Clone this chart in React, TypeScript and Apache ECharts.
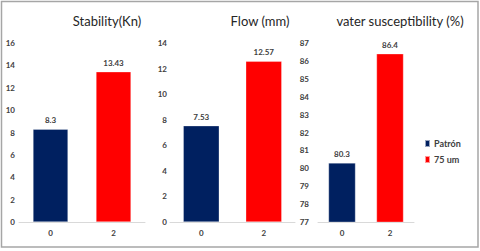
import React, { useEffect, useRef } from "react";
import * as echarts from "echarts";

const categories = ["0", "2"];
const titles = ["Stability(Kn)", "Flow (mm)", "vater susceptibility (%)"];
const patronValues = [8.3, 7.53, 80.3];
const umValues = [13.43, 12.57, 86.4];
const yMins = [0, 0, 77];
const yMaxs = [16, 14, 87];
const yIntervals = [2, 2, 1];
const seriesNames = ["Patrón", "75 um"];

const NAVY = "#002060";
const RED = "#FF0000";
const FONT = "Lato, 'Liberation Sans', sans-serif";

const grids = [
  { left: 19, width: 126 },
  { left: 170, width: 125 },
  { left: 318, width: 96 },
];
const barWidths = [35, 36, 27];
const labelMargins = [4, 3, 9];
const titleCenters = [102, 255, 395];

export default function App() {
  const ref = useRef<HTMLDivElement>(null);
  useEffect(() => {
    if (!ref.current) return;
    const chart = echarts.init(ref.current, null, { renderer: "svg" });
    const labelStyle = {
      show: true,
      position: "top" as const,
      distance: 5,
      fontSize: 8,
      fontWeight: "bold" as const,
      color: "#404040",
      fontFamily: FONT,
    };
    const series: any[] = [];
    for (let i = 0; i < 3; i++) {
      series.push({
        name: seriesNames[0],
        type: "bar",
        xAxisIndex: i,
        yAxisIndex: i,
        barWidth: barWidths[i],
        barGap: "-100%",
        data: [patronValues[i], "-"],
        itemStyle: { color: NAVY, borderColor: "rgba(255,255,255,0.6)", borderWidth: 0.5 },
        label: labelStyle,
      });
      series.push({
        name: seriesNames[1],
        type: "bar",
        xAxisIndex: i,
        yAxisIndex: i,
        barWidth: barWidths[i],
        barGap: "-100%",
        data: ["-", umValues[i]],
        itemStyle: { color: RED, borderColor: "rgba(255,255,255,0.6)", borderWidth: 0.5 },
        label: labelStyle,
      });
    }
    chart.setOption({
      animation: false,
      backgroundColor: "#ffffff",
      title: titles.map((t, i) => ({
        text: t,
        left: titleCenters[i],
        top: 9,
        textAlign: "center",
        textStyle: { fontSize: 13, fontWeight: "normal", color: "#262626", fontFamily: FONT },
      })),
      legend: {
        orient: "vertical",
        left: 419,
        top: 134,
        itemWidth: 5,
        itemHeight: 7,
        itemGap: 7,
        icon: "rect",
        data: seriesNames,
        textStyle: { fontSize: 9, fontWeight: "bold", color: "#404040", fontFamily: FONT, padding: [0, 0, 0, -1] },
      },
      grid: grids.map((g) => ({ left: g.left, width: g.width, top: 43, bottom: 29 })),
      xAxis: grids.map((_, i) => ({
        type: "category",
        gridIndex: i,
        data: categories,
        axisLine: { lineStyle: { color: "#d9d9d9", width: 1 } },
        axisTick: { show: false },
        axisLabel: { margin: 7, fontSize: 8, fontWeight: "bold", color: "#404040", fontFamily: FONT },
      })),
      yAxis: grids.map((_, i) => ({
        type: "value",
        gridIndex: i,
        min: yMins[i],
        max: yMaxs[i],
        interval: yIntervals[i],
        axisLine: { show: false },
        axisTick: { show: false },
        splitLine: { show: false },
        axisLabel: { margin: labelMargins[i], fontSize: 8, fontWeight: "bold", color: "#404040", fontFamily: FONT },
      })),
      graphic: [
        {
          type: "rect",
          shape: { x: 1.5, y: 1.5, width: 476.5, height: 245.5 },
          style: { fill: "none", stroke: "#a6a6a6", lineWidth: 1.5 },
          silent: true,
        },
      ],
      series,
    });
    return () => chart.dispose();
  }, []);
  return (
    <div
      ref={ref}
      style={{ position: "fixed", left: 0, top: 0, width: 480, height: 251 }}
    />
  );
}
